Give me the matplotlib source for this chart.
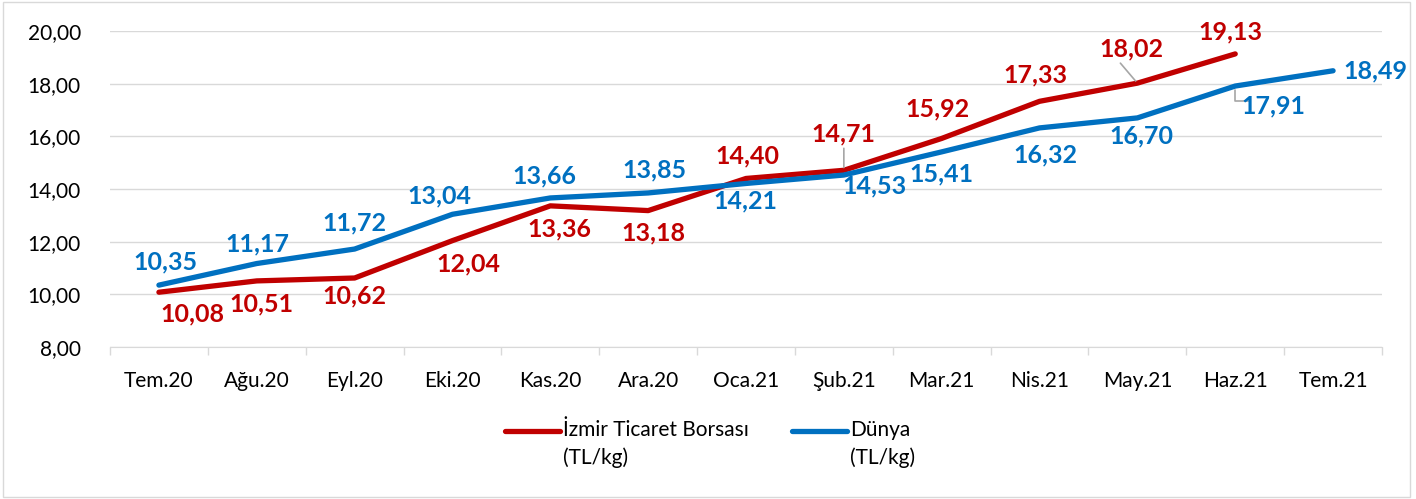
import matplotlib
matplotlib.use('Agg')
import matplotlib.pyplot as plt
from matplotlib.lines import Line2D
from matplotlib.patches import Rectangle

plt.rcParams['font.family'] = ['Lato', 'DejaVu Sans']

months = ['Tem.20', 'Ağu.20', 'Eyl.20', 'Eki.20', 'Kas.20', 'Ara.20', 'Oca.21',
          'Şub.21', 'Mar.21', 'Nis.21', 'May.21', 'Haz.21', 'Tem.21']
izmir = [10.08, 10.51, 10.62, 12.04, 13.36, 13.18, 14.40, 14.71, 15.92, 17.33, 18.02, 19.13]
dunya = [10.35, 11.17, 11.72, 13.04, 13.66, 13.85, 14.21, 14.53, 15.41, 16.32, 16.70, 17.91, 18.49]
izmir_name = 'İzmir Ticaret Borsası\n(TL/kg)'
dunya_name = 'Dünya\n(TL/kg)'

red = '#C00000'
blue = '#0070C0'
grid = '#D9D9D9'

# label offsets in pixels (dx, dy), screen y up
izmir_off = [(33, -22), (5, -23), (0, -18), (16, -23), (9, -23), (5, -22), (1, 23),
             (0, 36), (-4, 30), (-4, 26), (-6, 34), (-5, 22)]
dunya_off = [(7, 23), (1, 20), (0, 26), (-13, 18), (-6, 22), (6, 23), (-1, -17),
             (31, -11), (0, -22), (6, -27), (4, -18), (38, -20), (42, 0)]

fig = plt.figure(figsize=(14.16, 4.99), dpi=100)
ax = fig.add_axes([110/1416, 1-347/499, (1382-110)/1416, 316/499])

x = list(range(len(months)))
ax.plot(x[:len(izmir)], izmir, color=red, lw=3.8, solid_capstyle='round', zorder=3)
ax.plot(x, dunya, color=blue, lw=3.8, solid_capstyle='round', zorder=3)

ax.set_ylim(8, 20)
ax.set_xlim(-0.5, len(months) - 0.5)
ax.set_yticks(range(8, 21, 2))
ax.set_yticklabels([f'{v:.2f}'.replace('.', ',') for v in range(8, 21, 2)], fontsize=15)
ax.set_xticks(x)
ax.set_xticklabels(months, fontsize=15)
ax.set_xticks([i - 0.5 for i in range(len(months) + 1)], minor=True)
ax.tick_params(axis='x', which='major', length=0, pad=17)
ax.tick_params(axis='x', which='minor', length=6, color=grid, width=1)
ax.tick_params(axis='y', length=0, pad=21)
ax.grid(axis='y', color=grid, lw=1)
ax.set_axisbelow(True)
for s in ['top', 'right', 'left']:
    ax.spines[s].set_visible(False)
ax.spines['bottom'].set_color(grid)

def put_labels(vals, offs, color):
    for i, (v, (dx, dy)) in enumerate(zip(vals, offs)):
        ax.annotate(f'{v:.2f}'.replace('.', ','), (i, v), xytext=(dx, dy),
                    textcoords='offset pixels', ha='center', va='center',
                    fontsize=18, fontweight='bold', color=color, zorder=4)

put_labels(izmir, izmir_off, red)
put_labels(dunya, dunya_off, blue)

# leader lines
ax.annotate('', (7, izmir[7]), xytext=(0, 22), textcoords='offset pixels',
            arrowprops=dict(arrowstyle='-', color='#A6A6A6', lw=1.2, shrinkA=0, shrinkB=2))
ax.annotate('', (10, izmir[10]), xytext=(-17, 20), textcoords='offset pixels',
            arrowprops=dict(arrowstyle='-', color='#A6A6A6', lw=1.2, shrinkA=0, shrinkB=2))
ax.annotate('', (11, dunya[11]), xytext=(14, -15), textcoords='offset pixels',
            arrowprops=dict(arrowstyle='-', color='#A6A6A6', lw=1.2, shrinkA=0, shrinkB=3,
                            connectionstyle='angle,angleA=0,angleB=90,rad=0'))

# legend drawn by hand
def legend_item(x0, name, color):
    fig.add_artist(Line2D([x0/1416, (x0+55)/1416], [1-431/499]*2, color=color, lw=3.8,
                          solid_capstyle='round', transform=fig.transFigure))
    fig.text((x0+58)/1416, 1-420/499, name, fontsize=15, va='top', ha='left',
             linespacing=1.45, color='#000000')

legend_item(505, izmir_name, red)
legend_item(792, dunya_name, blue)

fig.add_artist(Rectangle((3/1416, 2/499), 1407/1416, 495/499, fill=False,
                         edgecolor=grid, lw=1, transform=fig.transFigure))

fig.savefig('out.png', dpi=100)
